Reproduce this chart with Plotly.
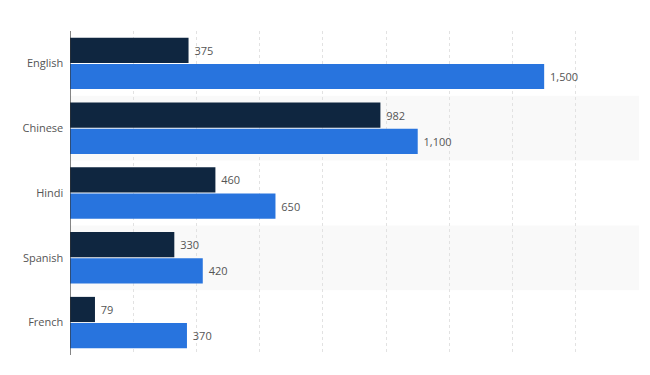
import plotly.graph_objects as go

languages = ["English", "Chinese", "Hindi", "Spanish", "French"]
native_speakers = [375, 982, 460, 330, 79]
total_speakers = [1500, 1100, 650, 420, 370]

dark = "#0f2640"
blue = "#2874de"

fig = go.Figure()
fig.add_trace(go.Bar(
    y=languages, x=native_speakers, orientation="h", name="Native speakers",
    marker=dict(color=dark, line=dict(width=0)),
    text=native_speakers, texttemplate=" %{x:,}", textposition="outside",
    textfont=dict(size=11, color="#555555"), cliponaxis=False,
))
fig.add_trace(go.Bar(
    y=languages, x=total_speakers, orientation="h", name="Total speakers",
    marker=dict(color=blue, line=dict(width=0)),
    text=total_speakers, texttemplate=" %{x:,}", textposition="outside",
    textfont=dict(size=11, color="#555555"), cliponaxis=False,
))

shapes = []
for i in range(len(languages)):
    if i % 2 == 1:
        shapes.append(dict(type="rect", xref="paper", yref="y", x0=0, x1=1,
                           y0=i - 0.5, y1=i + 0.5, fillcolor="#f9f9f9",
                           line=dict(width=0), layer="below"))
shapes.append(dict(type="line", xref="x", yref="paper", x0=0, x1=0, y0=0, y1=1,
                   line=dict(color="#333333", width=1.2)))

fig.update_layout(
    width=650, height=375,
    margin=dict(l=62, r=19, t=23, b=28),
    paper_bgcolor="white", plot_bgcolor="white",
    barmode="group", bargap=0.19, bargroupgap=0.04,
    showlegend=False,
    font=dict(family="Open Sans, sans-serif", size=11, color="#555555"),
    shapes=shapes,
    xaxis=dict(range=[0, 1800], dtick=200, showgrid=True, gridcolor="#e2e2e2",
               griddash="dot", gridwidth=1, showticklabels=False, zeroline=False,
               showline=False, fixedrange=True),
    yaxis=dict(autorange="reversed", showgrid=False, ticks="", ticklen=0,
               tickfont=dict(size=11, color="#555555"), showline=False),
)
fig.update_yaxes(ticksuffix="  ")

fig.write_html("out.html")
